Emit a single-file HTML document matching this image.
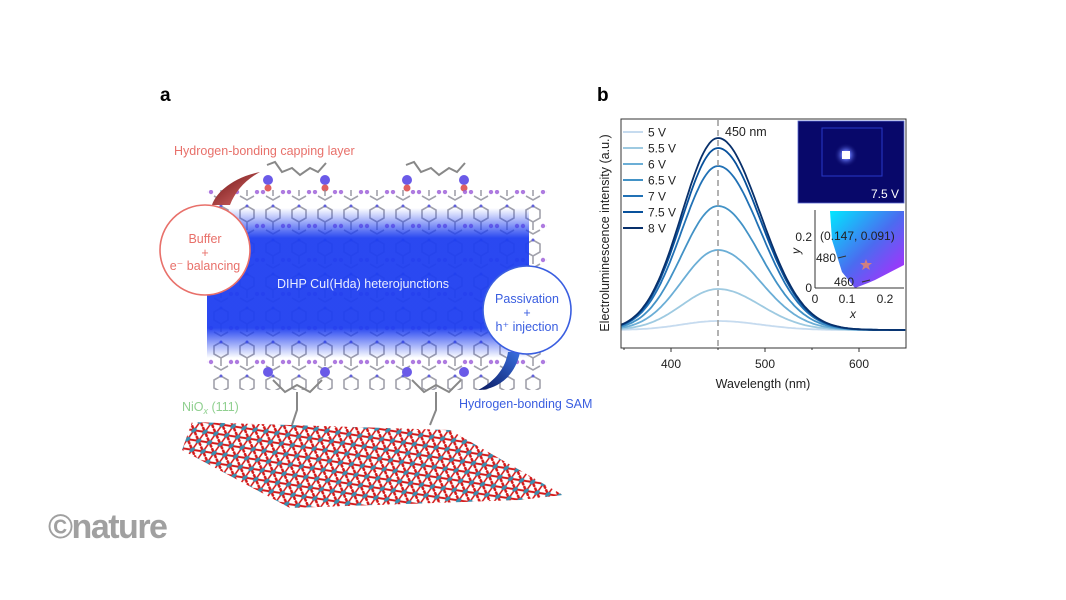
<!DOCTYPE html>
<html><head><meta charset="utf-8"><style>
body{margin:0;background:#fff;width:1066px;height:600px;overflow:hidden}
svg{display:block}
text{font-family:"Liberation Sans",sans-serif}
</style></head><body>
<svg id="s" width="1066" height="600" viewBox="0 0 1066 600" xmlns="http://www.w3.org/2000/svg">
<defs>
<linearGradient id="band" x1="0" y1="0" x2="0" y2="1">
<stop offset="0" stop-color="#1f3ff0" stop-opacity="0"/>
<stop offset="0.2" stop-color="#1f3ff0" stop-opacity="0.95"/>
<stop offset="0.8" stop-color="#1f3ff0" stop-opacity="0.95"/>
<stop offset="1" stop-color="#1f3ff0" stop-opacity="0"/>
</linearGradient>
<pattern id="mol" width="26" height="34" patternUnits="userSpaceOnUse">
<path d="M6 6 L13 2 L20 6 L20 14 L13 18 L6 14 Z M13 18 L13 26 M6 26 L13 30 L20 26" fill="none" stroke="#8a8a96" stroke-width="1.6"/>
<circle cx="3" cy="22" r="2.2" fill="#9a5ad8"/><circle cx="23" cy="22" r="2.2" fill="#9a5ad8"/>
<circle cx="13" cy="2" r="1.5" fill="#3a3ad0"/>
</pattern>
<pattern id="lat" width="12" height="9" patternUnits="userSpaceOnUse" patternTransform="skewX(-30) rotate(8)">
<path d="M0 4.5 L12 4.5 M6 0 L6 9 M0 0 L12 9" stroke="#d41818" stroke-width="1.9"/>
<circle cx="6" cy="4.5" r="2.4" fill="#3a8fb0"/>
</pattern>
<radialGradient id="glow" cx="0.5" cy="0.5" r="0.5">
<stop offset="0" stop-color="#ffffff"/><stop offset="0.3" stop-color="#6a7cff"/><stop offset="1" stop-color="#0a0a6a" stop-opacity="0"/>
</radialGradient>
<linearGradient id="cie" x1="0" y1="0" x2="1" y2="1">
<stop offset="0" stop-color="#00e8ff"/><stop offset="0.5" stop-color="#4a6cf0"/><stop offset="1" stop-color="#c020ff"/>
</linearGradient>
<linearGradient id="arr1" x1="0" y1="0" x2="1" y2="1"><stop offset="0" stop-color="#6a1010"/><stop offset="1" stop-color="#e07070"/></linearGradient>
<linearGradient id="arr2" x1="1" y1="0" x2="0" y2="1"><stop offset="0" stop-color="#3a70e0"/><stop offset="1" stop-color="#0a1a60"/></linearGradient>
</defs>

<!-- panel a -->
<text x="160" y="101" font-size="19" font-weight="bold">a</text>
<text x="174" y="155" font-size="12.5" fill="#e8706a">Hydrogen-bonding capping layer</text>
<g stroke="#888" stroke-width="2" fill="none">
<path d="M267 165 L275 162 L282 172 L292 168 L300 175 L310 168 L318 172 L326 163"/>
<path d="M406 165 L414 162 L421 172 L431 168 L439 175 L449 168 L457 172 L465 163"/>
</g>
<g fill="#6a5ae8"><circle cx="268" cy="180" r="5"/><circle cx="325" cy="180" r="5"/><circle cx="407" cy="180" r="5"/><circle cx="464" cy="180" r="5"/></g>
<g fill="#e06060"><circle cx="268" cy="188" r="3.5"/><circle cx="325" cy="188" r="3.5"/><circle cx="407" cy="188" r="3.5"/><circle cx="464" cy="188" r="3.5"/></g>
<rect x="207" y="190" width="340" height="200" fill="url(#mol)" opacity="0.8"/>
<rect x="207" y="208" width="322" height="150" fill="url(#band)"/>
<text x="363" y="288" font-size="12.5" fill="#e8ecff" text-anchor="middle">DIHP CuI(Hda) heterojunctions</text>
<path d="M260 172 C230 178 215 195 212 205 L230 205 C235 192 245 180 260 172Z" fill="url(#arr1)"/>
<circle cx="205" cy="250" r="45" fill="#fff" stroke="#e8706a" stroke-width="1.6"/>
<text x="205" y="243" font-size="12.5" fill="#e8706a" text-anchor="middle">Buffer</text>
<text x="205" y="257" font-size="12.5" fill="#e8706a" text-anchor="middle">+</text>
<text x="205" y="270" font-size="12.5" fill="#e8706a" text-anchor="middle">e⁻ balancing</text>
<path d="M508 352 C505 372 490 384 478 390 C495 390 515 378 520 352Z" fill="url(#arr2)"/>
<circle cx="527" cy="310" r="44" fill="#fff" stroke="#3a5ee0" stroke-width="1.6"/>
<text x="527" y="303" font-size="12.5" fill="#3a5ee0" text-anchor="middle">Passivation</text>
<text x="527" y="317" font-size="12.5" fill="#3a5ee0" text-anchor="middle">+</text>
<text x="527" y="331" font-size="12.5" fill="#3a5ee0" text-anchor="middle">h⁺ injection</text>
<g fill="#6a5ae8"><circle cx="268" cy="372" r="5"/><circle cx="325" cy="372" r="5"/><circle cx="407" cy="372" r="5"/><circle cx="464" cy="372" r="5"/></g>
<path d="M273 380 L285 392 L297 385 L310 392 L322 380 M412 380 L424 392 L436 385 L449 392 L461 380" stroke="#888" stroke-width="2" fill="none"/>
<path d="M297 392 L297 410 L292 425 M436 392 L436 410 L430 425" stroke="#888" stroke-width="2" fill="none"/>
<text x="182" y="411" font-size="12.5" fill="#90d090">NiO<tspan font-style="italic" font-size="9" dy="3">x</tspan><tspan dy="-3"> (111)</tspan></text>
<text x="459" y="408" font-size="12.5" fill="#3a5ee0">Hydrogen-bonding SAM</text>
<polygon points="192,422 450,430 563,495 520,500 290,508 182,450" fill="url(#lat)"/>
<text x="48" y="538" font-size="34" font-weight="bold" fill="#a0a0a0" font-family="Liberation Serif,serif" letter-spacing="-1.5">©nature</text>

<!-- panel b -->
<text x="597" y="101" font-size="19" font-weight="bold">b</text>
<g id="plot"></g>
<rect x="621" y="119" width="285" height="229" fill="none" stroke="#333" stroke-width="1"/>
<line x1="718" y1="120" x2="718" y2="348" stroke="#999" stroke-width="1.5" stroke-dasharray="6,4"/>
<text x="725" y="136" font-size="12.5" fill="#222">450 nm</text>
<g font-size="12" fill="#222" text-anchor="middle">
<text x="671" y="368">400</text><text x="765" y="368">500</text><text x="859" y="368">600</text>
</g>
<g stroke="#333"><line x1="671" y1="348" x2="671" y2="352"/><line x1="765" y1="348" x2="765" y2="352"/><line x1="859" y1="348" x2="859" y2="352"/>
<line x1="624" y1="348" x2="624" y2="350"/><line x1="718" y1="348" x2="718" y2="350"/><line x1="812" y1="348" x2="812" y2="350"/></g>
<text x="763" y="388" font-size="12.5" text-anchor="middle" fill="#222">Wavelength (nm)</text>
<text transform="translate(609,233) rotate(-90)" font-size="12.5" text-anchor="middle" fill="#222">Electroluminescence intensity (a.u.)</text>
<g id="leg" font-size="12" fill="#222"></g>
<rect x="798" y="121" width="106" height="82" fill="#08086a" stroke="#5a6ad0" stroke-width="0.8"/>
<rect x="822" y="128" width="60" height="48" fill="none" stroke="#2838c8" stroke-width="1"/>
<circle cx="846" cy="155" r="12" fill="url(#glow)"/>
<rect x="842" y="151" width="8" height="8" fill="#fff"/>
<text x="899" y="198" font-size="12" fill="#fff" text-anchor="end">7.5 V</text>
<polygon points="830,211 904,211 904,265 875,280 868,283 855,288 842,272 832,240" fill="url(#cie)"/>
<line x1="815" y1="210" x2="815" y2="288" stroke="#333"/><line x1="815" y1="288" x2="904" y2="288" stroke="#333"/>
<polygon points="866,259 867.5,263 872,263 868.5,266 870,270 866,267.5 862,270 863.5,266 860,263 864.5,263" fill="#d08080"/>
<g font-size="12" fill="#222">
<text x="812" y="241" text-anchor="end">0.2</text><text x="812" y="292" text-anchor="end">0</text>
<text x="815" y="303" text-anchor="middle">0</text><text x="847" y="303" text-anchor="middle">0.1</text><text x="885" y="303" text-anchor="middle">0.2</text>
<text x="820" y="240">(0.147, 0.091)</text>
<text x="816" y="262">480</text><text x="834" y="286">460</text>
<text x="850" y="318" font-style="italic">x</text>
<text transform="translate(800,254) rotate(-90)" font-style="italic">y</text>
</g>
<line x1="838" y1="258" x2="846" y2="256" stroke="#333"/><line x1="862" y1="282" x2="870" y2="280" stroke="#333"/>
</svg>
<script>
var cols=["#c6dbef","#9ecae1","#6baed6","#4292c6","#2171b5","#08519c","#08306b"];
var peaks=[321,289,250,206,166,148,138],labs=["5 V","5.5 V","6 V","6.5 V","7 V","7.5 V","8 V"];
var ns="http://www.w3.org/2000/svg",g=document.getElementById("plot"),lg=document.getElementById("leg");
for(var i=0;i<7;i++){var a=330-peaks[i],d="";
for(var w=347;w<=650;w+=2){var s=w<450?38.5:45;var y=330-a*Math.exp(-(w-450)*(w-450)/(2*s*s));var x=624+(w-350)*0.94;d+=(w==347?"M":"L")+x.toFixed(1)+" "+y.toFixed(1);}
var p=document.createElementNS(ns,"path");p.setAttribute("d",d);p.setAttribute("fill","none");p.setAttribute("stroke",cols[i]);p.setAttribute("stroke-width","1.8");g.appendChild(p);
var yy=132+i*16;var l=document.createElementNS(ns,"line");l.setAttribute("x1",623);l.setAttribute("x2",643);l.setAttribute("y1",yy);l.setAttribute("y2",yy);l.setAttribute("stroke",cols[i]);l.setAttribute("stroke-width","2");lg.appendChild(l);
var t=document.createElementNS(ns,"text");t.setAttribute("x",648);t.setAttribute("y",yy+4.5);t.textContent=labs[i];lg.appendChild(t);}
</script>
</body></html>
